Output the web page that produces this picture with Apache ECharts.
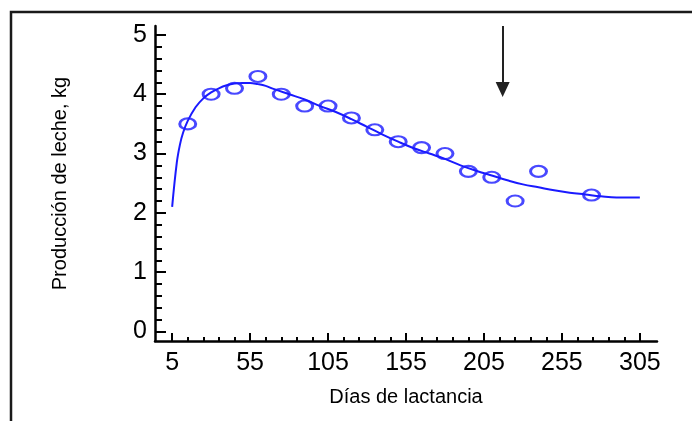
<!DOCTYPE html>
<html>
<head>
<meta charset="utf-8">
<script src="https://cdn.jsdelivr.net/npm/echarts@6/dist/echarts.min.js"></script>
<style>
html,body{margin:0;padding:0;background:#fff;}
#chart{width:692px;height:421px;}
</style>
</head>
<body>
<div id="chart"></div>
<script>
// Observed test-day points (días, kg)
const obsDays = [15, 30, 45, 60, 75, 90, 105, 120, 135, 150, 165, 180, 195, 210, 225, 240, 274];
const obsKg   = [3.5, 4.0, 4.1, 4.3, 4.0, 3.8, 3.8, 3.6, 3.4, 3.2, 3.1, 3.0, 2.7, 2.6, 2.2, 2.7, 2.3];

// Fitted lactation curve
const fitDays = [5, 8, 10, 12, 15, 20, 25, 30, 35, 40, 45, 50, 55, 60, 65, 70, 80, 90, 100, 110, 120, 130, 140, 150, 160, 170, 180, 190, 200, 210, 220, 230, 240, 250, 260, 270, 280, 290, 300, 305];
const fitKg   = [2.10, 2.85, 3.15, 3.35, 3.55, 3.78, 3.93, 4.03, 4.10, 4.15, 4.18, 4.19, 4.19, 4.17, 4.14, 4.09, 4.00, 3.91, 3.80, 3.70, 3.58, 3.45, 3.32, 3.20, 3.09, 3.00, 2.91, 2.80, 2.71, 2.63, 2.55, 2.48, 2.43, 2.38, 2.34, 2.31, 2.28, 2.26, 2.26, 2.26];

// Tick labels
const xMajorTicks = [5, 55, 105, 155, 205, 255, 305];
const xMinorTicks = [15, 25, 35, 45, 65, 75, 85, 95, 115, 125, 135, 145, 165, 175, 185, 195, 215, 225, 235, 245, 265, 275, 285, 295];
const yMajorTicks = [0, 1, 2, 3, 4, 5];
const yMinorTicks = [0.2, 0.4, 0.6, 0.8, 1.2, 1.4, 1.6, 1.8, 2.2, 2.4, 2.6, 2.8, 3.2, 3.4, 3.6, 3.8, 4.2, 4.4, 4.6, 4.8];

// Arrow annotation (day, top kg, tip kg)
const arrowDay = [217];
const arrowKg = [5.15, 4.08];

const xLabel = 'Días de lactancia';
const yLabel = 'Producción de leche, kg';

const BLUE = '#1a1aff';
const FONT = '"Liberation Sans", Arial, sans-serif';

const chart = echarts.init(document.getElementById('chart'));

const xMin = -6, xMax = 316, yMin = -0.16, yMax = 5.15;

chart.setOption({
  animation: false,
  backgroundColor: '#fff',
  grid: { left: 155, right: 35, top: 26, bottom: 80, containLabel: false },
  xAxis: [
    {
      type: 'value', min: xMin, max: xMax, position: 'bottom',
      axisLine: { show: true, onZero: false, lineStyle: { color: '#000', width: 2.5 } },
      axisTick: { show: true, inside: true, length: 8, customValues: xMajorTicks, lineStyle: { color: '#000', width: 2 } },
      axisLabel: { show: true, customValues: xMajorTicks, margin: 10, color: '#000', fontSize: 25, fontFamily: FONT },
      splitLine: { show: false },
      name: xLabel, nameLocation: 'middle', nameGap: 46,
      nameTextStyle: { color: '#000', fontSize: 20, fontFamily: FONT }
    },
    {
      type: 'value', min: xMin, max: xMax, position: 'bottom',
      axisLine: { show: false, onZero: false },
      axisTick: { show: true, inside: true, length: 4, customValues: xMinorTicks, lineStyle: { color: '#000', width: 2 } },
      axisLabel: { show: false },
      splitLine: { show: false }
    }
  ],
  yAxis: [
    {
      type: 'value', min: yMin, max: yMax, position: 'left',
      axisLine: { show: true, onZero: false, lineStyle: { color: '#000', width: 2.5 } },
      axisTick: { show: true, inside: true, length: 11, customValues: yMajorTicks, lineStyle: { color: '#000', width: 2 } },
      axisLabel: { show: true, customValues: yMajorTicks, margin: 8, color: '#000', fontSize: 25, fontFamily: FONT },
      splitLine: { show: false },
      name: yLabel, nameLocation: 'middle', nameGap: 85,
      nameTextStyle: { color: '#000', fontSize: 20, fontFamily: FONT }
    },
    {
      type: 'value', min: yMin, max: yMax, position: 'left',
      axisLine: { show: false, onZero: false },
      axisTick: { show: true, inside: true, length: 7, customValues: yMinorTicks, lineStyle: { color: '#000', width: 2 } },
      axisLabel: { show: false },
      splitLine: { show: false }
    }
  ],
  graphic: [
    {
      type: 'rect', silent: true,
      shape: { x: 11, y: 12, width: 720, height: 520 },
      style: { fill: 'none', stroke: '#1a1a1a', lineWidth: 2.5 }
    }
  ],
  series: [
    {
      type: 'line', xAxisIndex: 0, yAxisIndex: 0,
      data: fitDays.map((d, i) => [d, fitKg[i]]),
      smooth: 0.4, showSymbol: false, symbol: 'none',
      lineStyle: { color: BLUE, width: 2 },
      z: 2
    },
    {
      type: 'scatter', xAxisIndex: 0, yAxisIndex: 0,
      data: obsDays.map((d, i) => [d, obsKg[i]]),
      symbol: 'circle', symbolSize: [16, 11],
      itemStyle: { color: 'rgba(255,255,255,0)', borderColor: BLUE, borderWidth: 2.5 },
      clip: false,
      z: 3,
      markLine: {
        silent: true,
        symbol: ['none', 'triangle'],
        symbolSize: [14, 15],
        label: { show: false },
        lineStyle: { color: '#222', width: 2, type: 'solid' },
        data: [[{ coord: [arrowDay[0], arrowKg[0]] }, { coord: [arrowDay[0], arrowKg[1]] }]]
      }
    }
  ]
});
</script>
</body>
</html>
